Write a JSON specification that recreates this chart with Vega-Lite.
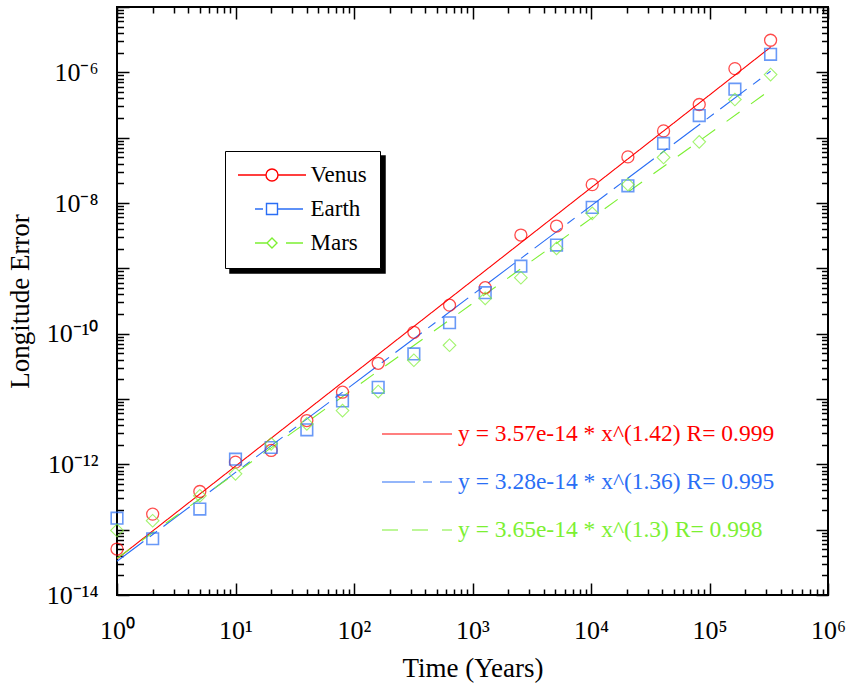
{
  "$schema": "https://vega.github.io/schema/vega-lite/v6.json",
  "width": 711,
  "height": 588,
  "autosize": "none",
  "padding": {"left": 117, "top": 7, "right": 21, "bottom": 91},
  "background": "white",
  "config": {
    "font": "Liberation Serif",
    "view": {"stroke": "black", "strokeWidth": 2},
    "axis": {
      "labelFont": "Liberation Serif",
      "labelFontSize": 26,
      "labelColor": "black",
      "tickColor": "black",
      "tickWidth": 1.5,
      "domain": false,
      "grid": false,
      "titleFont": "Liberation Serif",
      "titleFontSize": 27,
      "titleFontWeight": "normal",
      "titleColor": "black",
      "labelFlush": false,
      "labelOverlap": false
    }
  },
  "datasets": {
    "points": [
      {"planet": "Venus", "t": 1, "err": 5.05e-14},
      {"planet": "Venus", "t": 2, "err": 1.73e-13},
      {"planet": "Venus", "t": 5, "err": 3.84e-13},
      {"planet": "Venus", "t": 10, "err": 1.08e-12},
      {"planet": "Venus", "t": 20, "err": 1.63e-12},
      {"planet": "Venus", "t": 40, "err": 4.68e-12},
      {"planet": "Venus", "t": 80, "err": 1.27e-11},
      {"planet": "Venus", "t": 160, "err": 3.52e-11},
      {"planet": "Venus", "t": 320, "err": 1.05e-10},
      {"planet": "Venus", "t": 640, "err": 2.73e-10},
      {"planet": "Venus", "t": 1280, "err": 5.05e-10},
      {"planet": "Venus", "t": 2560, "err": 3.23e-9},
      {"planet": "Venus", "t": 5120, "err": 4.44e-9},
      {"planet": "Venus", "t": 10240, "err": 1.91e-8},
      {"planet": "Venus", "t": 20480, "err": 5.08e-8},
      {"planet": "Venus", "t": 40960, "err": 1.27e-7},
      {"planet": "Venus", "t": 81920, "err": 3.22e-7},
      {"planet": "Venus", "t": 163840, "err": 1.14e-6},
      {"planet": "Venus", "t": 327680, "err": 3.10e-6},
      {"planet": "Earth", "t": 1, "err": 1.50e-13},
      {"planet": "Earth", "t": 2, "err": 7.26e-14},
      {"planet": "Earth", "t": 5, "err": 2.07e-13},
      {"planet": "Earth", "t": 10, "err": 1.20e-12},
      {"planet": "Earth", "t": 20, "err": 1.81e-12},
      {"planet": "Earth", "t": 40, "err": 3.37e-12},
      {"planet": "Earth", "t": 80, "err": 9.35e-12},
      {"planet": "Earth", "t": 160, "err": 1.51e-11},
      {"planet": "Earth", "t": 320, "err": 4.90e-11},
      {"planet": "Earth", "t": 640, "err": 1.47e-10},
      {"planet": "Earth", "t": 1280, "err": 4.24e-10},
      {"planet": "Earth", "t": 2560, "err": 1.08e-9},
      {"planet": "Earth", "t": 5120, "err": 2.27e-9},
      {"planet": "Earth", "t": 10240, "err": 8.57e-9},
      {"planet": "Earth", "t": 20480, "err": 1.83e-8},
      {"planet": "Earth", "t": 40960, "err": 8.15e-8},
      {"planet": "Earth", "t": 81920, "err": 2.18e-7},
      {"planet": "Earth", "t": 163840, "err": 5.52e-7},
      {"planet": "Earth", "t": 327680, "err": 1.89e-6},
      {"planet": "Mars", "t": 1, "err": 9.73e-14},
      {"planet": "Mars", "t": 2, "err": 1.37e-13},
      {"planet": "Mars", "t": 5, "err": 3.30e-13},
      {"planet": "Mars", "t": 10, "err": 7.16e-13},
      {"planet": "Mars", "t": 20, "err": 2.06e-12},
      {"planet": "Mars", "t": 40, "err": 4.16e-12},
      {"planet": "Mars", "t": 80, "err": 6.65e-12},
      {"planet": "Mars", "t": 160, "err": 1.30e-11},
      {"planet": "Mars", "t": 320, "err": 3.92e-11},
      {"planet": "Mars", "t": 640, "err": 6.65e-11},
      {"planet": "Mars", "t": 1280, "err": 3.47e-10},
      {"planet": "Mars", "t": 2560, "err": 7.18e-10},
      {"planet": "Mars", "t": 5120, "err": 2.02e-9},
      {"planet": "Mars", "t": 10240, "err": 6.94e-9},
      {"planet": "Mars", "t": 20480, "err": 1.92e-8},
      {"planet": "Mars", "t": 40960, "err": 4.98e-8},
      {"planet": "Mars", "t": 81920, "err": 8.63e-8},
      {"planet": "Mars", "t": 163840, "err": 3.84e-7},
      {"planet": "Mars", "t": 327680, "err": 9.25e-7}
    ],
    "fits": [
      {"planet": "Venus", "eq": "y = 3.57e-14 * x^(1.42) R= 0.999", "t": 1, "err": 3.57e-14},
      {"planet": "Venus", "eq": "y = 3.57e-14 * x^(1.42) R= 0.999", "t": 327680, "err": 2.425e-6},
      {"planet": "Earth", "eq": "y = 3.28e-14 * x^(1.36) R= 0.995", "t": 1, "err": 3.28e-14},
      {"planet": "Earth", "eq": "y = 3.28e-14 * x^(1.36) R= 0.995", "t": 327680, "err": 1.04e-6},
      {"planet": "Mars", "eq": "y = 3.65e-14 * x^(1.3) R= 0.998", "t": 1, "err": 3.65e-14},
      {"planet": "Mars", "eq": "y = 3.65e-14 * x^(1.3) R= 0.998", "t": 327680, "err": 5.4e-7}
    ]
  },
  "layer": [
    {
      "data": {"name": "fits"},
      "mark": {"type": "line", "strokeWidth": 1.1},
      "encoding": {
        "x": {
          "field": "t", "type": "quantitative",
          "scale": {"type": "log", "domain": [1, 1000000], "nice": false},
          "axis": {
            "orient": "bottom",
            "values": [1,2,3,4,5,6,7,8,9,10,20,30,40,50,60,70,80,90,100,200,300,400,500,600,700,800,900,1000,2000,3000,4000,5000,6000,7000,8000,9000,10000,20000,30000,40000,50000,60000,70000,80000,90000,100000,200000,300000,400000,500000,600000,700000,800000,900000,1000000],
            "labelExpr": "datum.value == 1 ? '10⁰' : datum.value == 10 ? '10¹' : datum.value == 100 ? '10²' : datum.value == 1000 ? '10³' : datum.value == 10000 ? '10⁴' : datum.value == 100000 ? '10⁵' : datum.value == 1000000 ? '10⁶' : ''",
            "tickSize": {"condition": {"test": "abs(log(datum.value)/LN10 - round(log(datum.value)/LN10)) < 0.01", "value": -12}, "value": -6},
            "labelPadding": 34,
            "title": "Time (Years)",
            "titleX": 355.5,
            "titleY": 81,
            "titleBaseline": "alphabetic"
          }
        },
        "y": {
          "field": "err", "type": "quantitative",
          "scale": {"type": "log", "domain": [1e-14, 1e-5], "nice": false},
          "axis": {
            "orient": "left",
            "values": [1e-14,2e-14,3e-14,4e-14,5e-14,6e-14,7e-14,8e-14,9e-14,1e-13,2e-13,3e-13,4e-13,5e-13,6e-13,7e-13,8e-13,9e-13,1e-12,2e-12,3e-12,4e-12,5e-12,6e-12,7e-12,8e-12,9e-12,1e-11,2e-11,3e-11,4e-11,5e-11,6e-11,7e-11,8e-11,9e-11,1e-10,2e-10,3e-10,4e-10,5e-10,6e-10,7e-10,8e-10,9e-10,1e-9,2e-9,3e-9,4e-9,5e-9,6e-9,7e-9,8e-9,9e-9,1e-8,2e-8,3e-8,4e-8,5e-8,6e-8,7e-8,8e-8,9e-8,1e-7,2e-7,3e-7,4e-7,5e-7,6e-7,7e-7,8e-7,9e-7,1e-6,2e-6,3e-6,4e-6,5e-6,6e-6,7e-6,8e-6,9e-6,1e-5],
            "labelExpr": "datum.value == 1e-14 ? '10⁻¹⁴' : datum.value == 1e-12 ? '10⁻¹²' : datum.value == 1e-10 ? '10⁻¹⁰' : datum.value == 1e-8 ? '10⁻⁸' : datum.value == 1e-6 ? '10⁻⁶' : ''",
            "tickSize": {"condition": {"test": "abs(log(datum.value)/LN10 - round(log(datum.value)/LN10)) < 0.01", "value": -12}, "value": -6.5},
            "labelPadding": 31,
            "title": "Longitude Error",
            "titleX": -89,
            "titleY": 294,
            "titleBaseline": "alphabetic"
          }
        },
        "color": {
          "field": "planet", "type": "nominal",
          "scale": {"domain": ["Venus", "Earth", "Mars"], "range": ["#ff0000", "#2a6ef5", "#7cf032"]}
        },
        "opacity": {
          "field": "eq", "type": "ordinal",
          "scale": {"domain": ["y = 3.57e-14 * x^(1.42) R= 0.999", "y = 3.28e-14 * x^(1.36) R= 0.995", "y = 3.65e-14 * x^(1.3) R= 0.998"], "range": [1, 1, 1]},
          "legend": {
            "orient": "none", "legendX": 113, "legendY": 149, "title": null,
            "fillColor": "black", "strokeColor": "black", "padding": 12.5,
            "labelFont": "Liberation Serif", "labelFontSize": 23, "labelLimit": 0, "rowPadding": 10,
            "labelExpr": "indexof(datum.value, '1.42') >= 0 ? 'Venus' : indexof(datum.value, '1.36') >= 0 ? 'Earth' : 'Mars'",
            "labelOpacity": 0,
            "symbolType": "M-6.8,0H6.8", "symbolSize": 100, "symbolOffset": 23, "labelOffset": 27,
            "symbolStrokeColor": "black", "labelColor": "black",
            "zindex": 0,
            "encode": {"legend": {"update": {"strokeWidth": {"value": 1.5}}}}
          }
        },
        "strokeDash": {
          "field": "eq", "type": "nominal",
          "scale": {
            "domain": ["y = 3.57e-14 * x^(1.42) R= 0.999", "y = 3.28e-14 * x^(1.36) R= 0.995", "y = 3.65e-14 * x^(1.3) R= 0.998"],
            "range": [[1, 0], [33, 8, 9, 8], [16, 14]]
          },
          "legend": {
            "orient": "bottom-right", "offset": 53, "title": null,
            "padding": 0, "labelFont": "Liberation Serif", "labelFontSize": 23.5, "labelLimit": 0,
            "rowPadding": 0, "symbolType": "stroke", "symbolSize": 4900, "symbolStrokeWidth": 1.2,
            "labelOffset": 5,
            "encode": {
              "symbols": {"update": {"stroke": {"signal": "indexof(datum.value, '1.42') >= 0 ? '#ff0000' : indexof(datum.value, '1.36') >= 0 ? '#2a6ef5' : '#7cf032'"}}},
              "labels": {"update": {"fill": {"signal": "indexof(datum.value, '1.42') >= 0 ? '#ff0000' : indexof(datum.value, '1.36') >= 0 ? '#2a6ef5' : '#7cf032'"}}}
            }
          }
        }
      }
    },
    {
      "data": {"name": "points"},
      "transform": [{"filter": {"field": "planet", "equal": "Venus"}}],
      "mark": {"type": "point", "shape": "circle", "filled": false, "size": 144, "strokeWidth": 1.3},
      "encoding": {
        "x": {
          "field": "t", "type": "quantitative",
          "scale": {"type": "log", "domain": [1, 1000000], "nice": false},
          "axis": {
            "orient": "top",
            "values": [1,2,3,4,5,6,7,8,9,10,20,30,40,50,60,70,80,90,100,200,300,400,500,600,700,800,900,1000,2000,3000,4000,5000,6000,7000,8000,9000,10000,20000,30000,40000,50000,60000,70000,80000,90000,100000,200000,300000,400000,500000,600000,700000,800000,900000,1000000],
            "labels": false,
            "tickSize": {"condition": {"test": "abs(log(datum.value)/LN10 - round(log(datum.value)/LN10)) < 0.01", "value": -12}, "value": -6},
            "title": null
          }
        },
        "y": {
          "field": "err", "type": "quantitative",
          "scale": {"type": "log", "domain": [1e-14, 1e-5], "nice": false},
          "axis": {
            "orient": "right",
            "values": [1e-14,2e-14,3e-14,4e-14,5e-14,6e-14,7e-14,8e-14,9e-14,1e-13,2e-13,3e-13,4e-13,5e-13,6e-13,7e-13,8e-13,9e-13,1e-12,2e-12,3e-12,4e-12,5e-12,6e-12,7e-12,8e-12,9e-12,1e-11,2e-11,3e-11,4e-11,5e-11,6e-11,7e-11,8e-11,9e-11,1e-10,2e-10,3e-10,4e-10,5e-10,6e-10,7e-10,8e-10,9e-10,1e-9,2e-9,3e-9,4e-9,5e-9,6e-9,7e-9,8e-9,9e-9,1e-8,2e-8,3e-8,4e-8,5e-8,6e-8,7e-8,8e-8,9e-8,1e-7,2e-7,3e-7,4e-7,5e-7,6e-7,7e-7,8e-7,9e-7,1e-6,2e-6,3e-6,4e-6,5e-6,6e-6,7e-6,8e-6,9e-6,1e-5],
            "labels": false,
            "tickSize": {"condition": {"test": "abs(log(datum.value)/LN10 - round(log(datum.value)/LN10)) < 0.01", "value": -12}, "value": -6.5},
            "title": null
          }
        },
        "color": {
          "field": "planet", "type": "nominal",
          "scale": {"domain": ["Venus", "Earth", "Mars"], "range": ["#ff0000", "#2a6ef5", "#7cf032"]},
          "legend": {
            "orient": "none", "legendX": 108, "legendY": 144, "title": null,
            "fillColor": "white", "strokeColor": "black", "padding": 12.5,
            "labelFont": "Liberation Serif", "labelFontSize": 23, "labelLimit": 0, "rowPadding": 10,
            "symbolType": "M-6.8,0H6.8", "symbolSize": 100, "symbolOffset": 23, "labelOffset": 27, "symbolStrokeWidth": 1.4,
            "symbolOpacity": 1,
            "zindex": 3,
            "encode": {
              "legend": {"update": {"strokeWidth": {"value": 1.5}}},
              "symbols": {"update": {"fill": {"value": "transparent"}}},
              "labels": {"update": {"fill": {"signal": "datum.value == 'Venus' ? '#ff0000' : datum.value == 'Earth' ? '#2a6ef5' : '#7cf032'"}}}
            }
          }
        }
      }
    },
    {
      "data": {"name": "points"},
      "transform": [{"filter": {"field": "planet", "equal": "Earth"}}],
      "mark": {"type": "point", "shape": "square", "filled": false, "size": 135, "strokeWidth": 1.6},
      "encoding": {
        "x": {"field": "t", "type": "quantitative", "scale": {"type": "log", "domain": [1, 1000000], "nice": false}, "axis": null},
        "y": {"field": "err", "type": "quantitative", "scale": {"type": "log", "domain": [1e-14, 1e-5], "nice": false}, "axis": null},
        "color": {"field": "planet", "type": "nominal", "scale": {"domain": ["Venus", "Earth", "Mars"], "range": ["#ff0000", "#2a6ef5", "#7cf032"]}}
      }
    },
    {
      "data": {"name": "points"},
      "transform": [{"filter": {"field": "planet", "equal": "Mars"}}],
      "mark": {"type": "point", "shape": "diamond", "filled": false, "size": 160, "strokeWidth": 1.1},
      "encoding": {
        "x": {"field": "t", "type": "quantitative", "scale": {"type": "log", "domain": [1, 1000000], "nice": false}, "axis": null},
        "y": {"field": "err", "type": "quantitative", "scale": {"type": "log", "domain": [1e-14, 1e-5], "nice": false}, "axis": null},
        "color": {"field": "planet", "type": "nominal", "scale": {"domain": ["Venus", "Earth", "Mars"], "range": ["#ff0000", "#2a6ef5", "#7cf032"]}}
      }
    },
    {
      "data": {"name": "points"},
      "mark": {"type": "point", "filled": false, "size": 100, "opacity": 0},
      "encoding": {
        "x": {"field": "t", "type": "quantitative", "scale": {"type": "log", "domain": [1, 1000000], "nice": false}, "axis": null},
        "y": {"field": "err", "type": "quantitative", "scale": {"type": "log", "domain": [1e-14, 1e-5], "nice": false}, "axis": null},
        "shape": {
          "field": "planet", "type": "nominal",
          "scale": {
            "domain": ["Venus", "Earth", "Mars"],
            "range": [
              "M-6.8,0H-1.2M1.2,0H6.8M1.2,0A1.2,1.2 0 1 1 -1.2,0A1.2,1.2 0 1 1 1.2,0",
              "M-6.8,0M6.8,0M-3.4,0H-1.8M-1.1,-1.1H1.1V1.1H-1.1ZM1.1,0H6.2",
              "M-6.8,0M6.8,0M-3.4,0H-1M-1,0L0,-1L1,0L0,1ZM2.8,0H6.2"
            ]
          },
          "legend": {"symbolOpacity": 1}
        }
      }
    }
  ],
  "resolve": {"axis": {"x": "independent", "y": "independent"}}
}
